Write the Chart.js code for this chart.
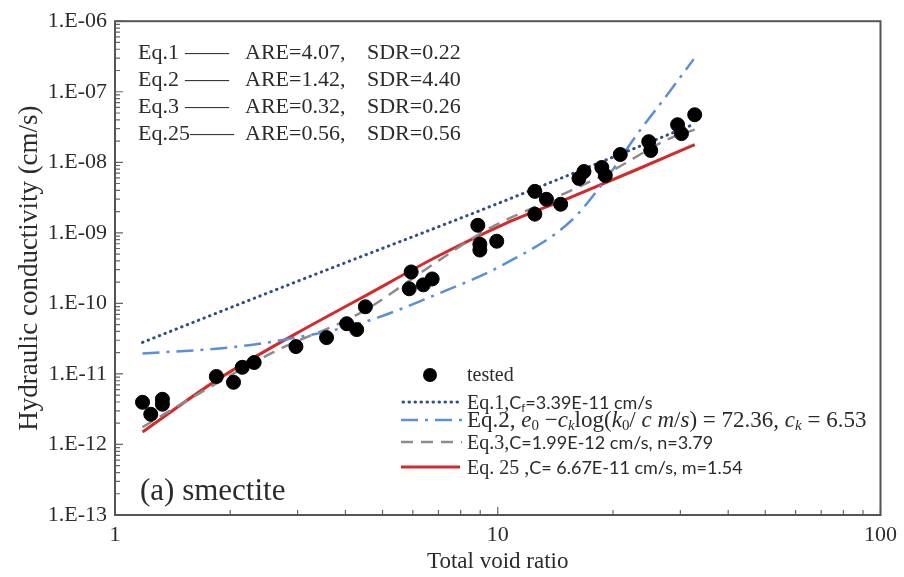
<!DOCTYPE html>
<html>
<head>
<meta charset="utf-8">
<script src="https://cdn.jsdelivr.net/npm/chart.js@4.4.1/dist/chart.umd.min.js"></script>
<style>
body { margin: 0; background: #fff; }
#wrap { position: relative; width: 904px; height: 577px; }
.ov { position: absolute; left: 0; top: 0; pointer-events: none; }
.t { position: absolute; white-space: nowrap; color: #2b2b2b; font-family: "Liberation Serif", serif; }
.tl { font-size: 22px; line-height: 24px; }
.lg { font-size: 20px; line-height: 22px; }
.sans { font-family: Lato, "Liberation Sans", sans-serif; font-size: 18px; }
.m i { font-style: italic; }
sub { font-size: 65%; vertical-align: -3px; line-height: 0; }
</style>
</head>
<body>
<div id="wrap">
<canvas id="chart" width="904" height="577"></canvas>

<svg class="ov" width="904" height="577">
  <circle cx="430" cy="375" r="7" fill="#000"/>
  <line x1="403" y1="402" x2="458" y2="402" stroke="#2f4f86" stroke-width="3" stroke-dasharray="0.5 5.5" stroke-linecap="round"/>
  <line x1="401" y1="420" x2="462" y2="420" stroke="#5b8fd6" stroke-width="2.5" stroke-dasharray="17 7 3 7"/>
  <line x1="401" y1="442" x2="462" y2="442" stroke="#8c8c8c" stroke-width="2.5" stroke-dasharray="12 8"/>
  <line x1="401" y1="467" x2="460" y2="467" stroke="#d42a2a" stroke-width="3"/>
</svg>

<!-- top left: fit statistics -->
<div class="t tl" style="left:138px;top:40px">Eq.1</div>
<div class="t tl" style="left:185px;top:40px">——</div>
<div class="t tl" style="left:245px;top:40px">ARE=4.07,</div>
<div class="t tl" style="left:367px;top:40px">SDR=0.22</div>
<div class="t tl" style="left:138px;top:67px">Eq.2</div>
<div class="t tl" style="left:185px;top:67px">——</div>
<div class="t tl" style="left:245px;top:67px">ARE=1.42,</div>
<div class="t tl" style="left:367px;top:67px">SDR=4.40</div>
<div class="t tl" style="left:138px;top:94px">Eq.3</div>
<div class="t tl" style="left:185px;top:94px">——</div>
<div class="t tl" style="left:245px;top:94px">ARE=0.32,</div>
<div class="t tl" style="left:367px;top:94px">SDR=0.26</div>
<div class="t tl" style="left:138px;top:121px">Eq.25——</div>
<div class="t tl" style="left:245px;top:121px">ARE=0.56,</div>
<div class="t tl" style="left:367px;top:121px">SDR=0.56</div>

<!-- bottom right legend -->
<div class="t lg" style="left:467px;top:363px">tested</div>
<div class="t lg" style="left:467px;top:391px">Eq.1,<span class="sans">C<sub>f</sub>=3.39E-11 cm/s</span></div>
<div class="t lg m" style="left:467px;top:408px;font-size:23px;line-height:24px">Eq.2, <i>e</i><sub>0</sub> −<i>c<sub>k</sub></i>log(<i>k</i><sub>0</sub>/ <i>c m</i>/<i>s</i>) = 72.36, <i>c<sub>k</sub></i> = 6.53</div>
<div class="t lg" style="left:467px;top:431px">Eq.3,<span class="sans">C=1.99E-12 cm/s, n=3.79</span></div>
<div class="t lg" style="left:467px;top:456px">Eq. 25 ,<span class="sans">C= 6.67E-11 cm/s, m=1.54</span></div>

<div class="t" style="left:140px;top:472px;font-size:31px;line-height:36px">(a) smectite</div>
</div>

<script>
const xTickLabels = ['1', '10', '100'];
const yTickLabels = ['1.E-13', '1.E-12', '1.E-11', '1.E-10', '1.E-09', '1.E-08', '1.E-07', '1.E-06'];

// measured points
const testedRatio = [1.18, 1.24, 1.33, 1.33, 1.84, 2.04, 2.15, 2.31, 2.97, 3.57, 4.03, 4.28, 4.51,
  5.87, 5.94, 6.39, 6.74, 8.87, 8.98, 8.98, 9.94, 12.5, 12.5, 13.4, 14.6, 16.3, 16.8, 18.7, 19.1,
  20.9, 24.8, 25.1, 29.5, 30.2, 32.7];
const testedK = [3.96e-12, 2.68e-12, 4.37e-12, 3.72e-12, 9.2e-12, 7.6e-12, 1.24e-11, 1.45e-11, 2.44e-11,
  3.27e-11, 5.15e-11, 4.25e-11, 8.95e-11, 1.61e-10, 2.79e-10, 1.83e-10, 2.22e-10, 1.28e-9, 6.9e-10,
  5.7e-10, 7.6e-10, 3.87e-9, 1.84e-9, 2.99e-9, 2.54e-9, 5.9e-9, 7.4e-9, 8.45e-9, 6.5e-9, 1.29e-8,
  1.96e-8, 1.47e-8, 3.41e-8, 2.55e-8, 4.72e-8];

// model curves
const eq1Ratio = [1.18, 3.0, 10, 32.7];
const eq1K = [2.8e-11, 2.06e-10, 2.6e-9, 3.5e-8];
const eq2Ratio = [1.18, 1.99, 2.97, 4.41, 6.99, 10.4, 15.5, 19.0, 23.1, 28.1, 32.5];
const eq2K = [1.95e-11, 2.37e-11, 3.27e-11, 5.3e-11, 1.37e-10, 3.6e-10, 1.46e-9, 5.4e-9, 2.47e-8, 1.0e-7, 2.9e-7];
const eq3Ratio = [1.18, 1.66, 2.64, 4.33, 6.99, 9.42, 13.5, 19.7, 28.1, 32.7];
const eq3K = [1.76e-12, 5.3e-12, 2.14e-11, 7.1e-11, 4.0e-10, 1.13e-9, 2.8e-9, 7.4e-9, 2.17e-8, 2.9e-8];
const eq25Ratio = [1.18, 1.84, 2.97, 4.41, 6.99, 10.4, 15.5, 23.1, 32.7];
const eq25K = [1.5e-12, 8.1e-12, 3.72e-11, 1.2e-10, 4.69e-10, 1.33e-9, 3.19e-9, 7.9e-9, 1.78e-8];

const pts = (xs, ys) => xs.map((x, i) => ({x: x, y: ys[i]}));

const isDecade = v => Math.abs(Math.log10(v) - Math.round(Math.log10(v))) < 1e-6;
const isWhole = v => {
  const m = v / Math.pow(10, Math.floor(Math.log10(v) + 1e-9));
  return Math.abs(m - Math.round(m)) < 1e-6;
};

// frame + inward ticks
const frameTicks = {
  id: 'frameTicks',
  afterDraw(chart) {
    const {ctx, chartArea: a, scales} = chart;
    ctx.save();
    ctx.strokeStyle = '#666';
    ctx.lineWidth = 1.2;
    ctx.beginPath();
    scales.x.ticks.forEach(t => {
      if (!isWhole(t.value)) return;
      const px = scales.x.getPixelForValue(t.value);
      const len = isDecade(t.value) ? 8 : 5;
      ctx.moveTo(px, a.bottom);
      ctx.lineTo(px, a.bottom - len);
    });
    scales.y.ticks.forEach(t => {
      if (!isWhole(t.value)) return;
      const py = scales.y.getPixelForValue(t.value);
      const len = isDecade(t.value) ? 8 : 5;
      ctx.moveTo(a.left, py);
      ctx.lineTo(a.left + len, py);
    });
    ctx.stroke();
    ctx.lineWidth = 2;
    ctx.strokeStyle = '#555';
    ctx.strokeRect(a.left, a.top, a.right - a.left, a.bottom - a.top);
    ctx.restore();
  }
};

const tickFont = {family: 'Liberation Serif', size: 22};

new Chart(document.getElementById('chart'), {
  type: 'scatter',
  data: {
    datasets: [
      {
        label: 'tested',
        data: pts(testedRatio, testedK),
        backgroundColor: '#000',
        borderColor: '#000',
        pointRadius: 7,
        pointHoverRadius: 7
      },
      {
        label: 'Eq.1',
        data: pts(eq1Ratio, eq1K),
        showLine: true,
        borderColor: '#2f4f86',
        borderWidth: 3,
        borderDash: [0.5, 5.5],
        borderCapStyle: 'round',
        pointRadius: 0,
        cubicInterpolationMode: 'monotone'
      },
      {
        label: 'Eq.2',
        data: pts(eq2Ratio, eq2K),
        showLine: true,
        borderColor: '#5b8fd6',
        borderWidth: 2.5,
        borderDash: [17, 7, 3, 7],
        pointRadius: 0,
        cubicInterpolationMode: 'monotone'
      },
      {
        label: 'Eq.3',
        data: pts(eq3Ratio, eq3K),
        showLine: true,
        borderColor: '#8c8c8c',
        borderWidth: 2.5,
        borderDash: [12, 8],
        pointRadius: 0,
        cubicInterpolationMode: 'monotone'
      },
      {
        label: 'Eq.25',
        data: pts(eq25Ratio, eq25K),
        showLine: true,
        borderColor: '#d42a2a',
        borderWidth: 3,
        pointRadius: 0,
        cubicInterpolationMode: 'monotone'
      }
    ]
  },
  options: {
    responsive: false,
    animation: false,
    layout: {autoPadding: false, padding: {top: 19, right: 19, left: 0, bottom: 0}},
    plugins: {legend: {display: false}, tooltip: {enabled: false}},
    scales: {
      x: {
        type: 'logarithmic',
        min: 1,
        max: 100,
        grid: {display: false, drawTicks: false},
        border: {display: false},
        afterFit: s => { s.height = 62; },
        ticks: {
          autoSkip: false,
          maxRotation: 0,
          padding: 7,
          color: '#2b2b2b',
          font: tickFont,
          callback: v => isDecade(v) ? xTickLabels[Math.round(Math.log10(v))] : ''
        },
        title: {display: true, text: 'Total void ratio', color: '#2b2b2b', font: {family: 'Liberation Serif', size: 23}, padding: {top: 0, bottom: 1}}
      },
      y: {
        type: 'logarithmic',
        min: 1e-13,
        max: 1e-6,
        grid: {display: false, drawTicks: false},
        border: {display: false},
        afterFit: s => { s.width = 115; },
        ticks: {
          autoSkip: false,
          padding: 8,
          color: '#2b2b2b',
          font: tickFont,
          callback: v => isDecade(v) ? yTickLabels[Math.round(Math.log10(v)) + 13] : ''
        },
        title: {display: true, text: 'Hydraulic conductivity (cm/s)', color: '#2b2b2b', font: {family: 'Liberation Serif', size: 27}, padding: {top: 14, bottom: 0}}
      }
    }
  },
  plugins: [frameTicks]
});
</script>
</body>
</html>
